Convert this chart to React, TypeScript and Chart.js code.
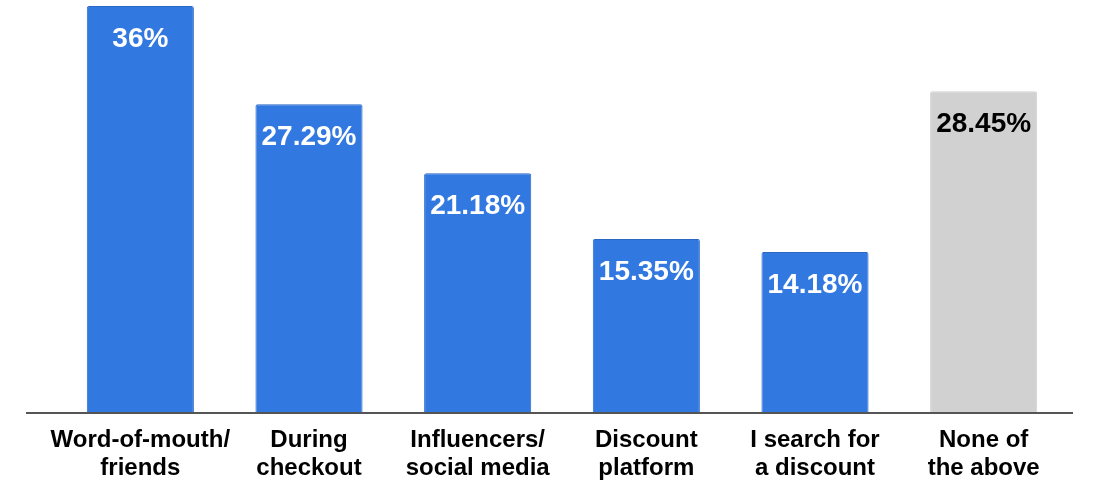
import React, { useEffect, useRef } from "react";
import { Chart, registerables } from "chart.js";

Chart.register(...registerables);

const categories: string[][] = [
  ["Word-of-mouth/", "friends"],
  ["During", "checkout"],
  ["Influencers/", "social media"],
  ["Discount", "platform"],
  ["I search for", "a discount"],
  ["None of", "the above"],
];
const values: number[] = [36, 27.29, 21.18, 15.35, 14.18, 28.45];
const valueLabels: string[] = ["36%", "27.29%", "21.18%", "15.35%", "14.18%", "28.45%"];
const barColors: string[] = ["#3178E1", "#3178E1", "#3178E1", "#3178E1", "#3178E1", "#D1D1D1"];
const borderColors: string[] = ["#2B68C4", "#2B68C4", "#2B68C4", "#2B68C4", "#2B68C4", "#D1D1D1"];
const labelColors: string[] = ["#FFFFFF", "#FFFFFF", "#FFFFFF", "#FFFFFF", "#FFFFFF", "#000000"];

const FONT = "'Liberation Sans', Arial, sans-serif";

const overlayPlugin = {
  id: "overlay",
  afterDatasetsDraw(chart: any) {
    const ctx = chart.ctx;
    const area = chart.chartArea;
    ctx.save();
    ctx.strokeStyle = "#555555";
    ctx.lineWidth = 2;
    ctx.beginPath();
    ctx.moveTo(26, area.bottom + 1);
    ctx.lineTo(1073, area.bottom + 1);
    ctx.stroke();
    const meta = chart.getDatasetMeta(0);
    ctx.font = `bold 28px ${FONT}`;
    ctx.textAlign = "center";
    ctx.textBaseline = "middle";
    meta.data.forEach((bar: any, i: number) => {
      ctx.fillStyle = labelColors[i];
      ctx.fillText(valueLabels[i], bar.x, bar.y + 33);
    });
    ctx.restore();
  },
};

export default function App() {
  const ref = useRef<HTMLCanvasElement | null>(null);
  useEffect(() => {
    if (!ref.current) return;
    const chart = new Chart(ref.current, {
      type: "bar",
      data: {
        labels: categories,
        datasets: [
          {
            data: values,
            backgroundColor: barColors,
            borderColor: borderColors,
            borderWidth: 1,
            borderRadius: 2,
            borderSkipped: "bottom",
            barPercentage: 0.635,
            categoryPercentage: 1,
          },
        ],
      },
      options: {
        animation: false,
        responsive: true,
        maintainAspectRatio: false,
        layout: { padding: { left: 56, right: 38, top: 6, bottom: 0 } },
        plugins: { legend: { display: false }, tooltip: { enabled: false } },
        scales: {
          x: {
            grid: { display: false, drawTicks: false },
            border: { display: false },
            afterFit: (scale: any) => {
              scale.height = 79;
            },
            ticks: {
              color: "#000000",
              padding: 14,
              maxRotation: 0,
              autoSkip: false,
              font: { family: FONT, size: 24, weight: "bold", lineHeight: 1.17 },
            },
          },
          y: {
            display: false,
            min: 0,
            max: 36,
          },
        },
      },
      plugins: [overlayPlugin],
    });
    return () => chart.destroy();
  }, []);
  return (
    <div style={{ position: "fixed", left: 0, top: 0, width: 1106, height: 491, background: "#FFFFFF" }}>
      <canvas ref={ref} />
    </div>
  );
}
